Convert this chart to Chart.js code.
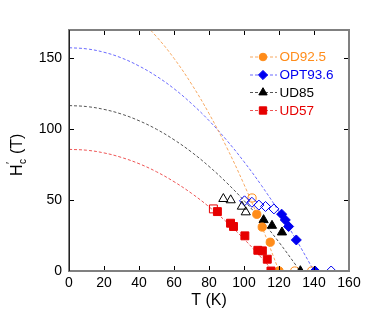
<!DOCTYPE html>
<html><head><meta charset="utf-8">
<script src="https://cdn.jsdelivr.net/npm/chart.js@4/dist/chart.umd.min.js"></script>
<style>html,body{margin:0;padding:0;background:#fff}#wrap{width:368px;height:318px}</style>
</head><body><div id="wrap"><canvas id="c" width="368" height="318"></canvas></div>
<script>
// ---- data ----
const xTicks = [0, 20, 40, 60, 80, 100, 120, 140, 160];
const yTicks = [0, 50, 100, 150];
const seriesNames = ['OD92.5', 'OPT93.6', 'UD85', 'UD57'];

// filled symbols [T, H]
const od925 = [[107.3,40],[110.4,31],[115,20.3],[120,0]];
const opt936 = [[121.5,40.1],[123.6,36],[125.5,31.4],[129.9,21.9],[140.6,0]];
const ud85 = [[111.2,36],[116,32],[121.7,27.3],[132.2,0]];
const ud57 = [[84.8,41.9],[92.3,33.7],[94,31.4],[100.5,24.8],[107.9,14.6],[110.5,14.2],[113.3,8.3],[115.4,0]];
// open symbols
const od925Open = [[104.6,51.5],[129,0],[138.7,0]];
const opt936Open = [[100.3,49.5],[104.5,48.5],[108.5,46.5],[112.3,45.5],[117.1,43.8],[149.8,0]];
const ud85Open = [[88.2,50.9],[92.4,50],[98.8,45.5],[101,41.5]];
const ud57Open = [[82.5,43.8]];
// dashed fit curves
const fitT_od = [0,10,20,30,40,50,60,70,80,90,100,110,120];
const fitH_od = [200,198.6,194.4,187.5,177.8,165.3,150,131.9,111.1,87.5,61.1,31.9,0];
const fitT_opt = [0,10,20,30,40,50,60,70,80,90,100,110,120,130,140];
const fitH_opt = [157.5,156.7,154.3,150.3,144.6,137.4,128.6,118.1,106.1,92.4,77.1,60.3,41.8,21.7,0];
const fitT_ud85 = [0,10,20,30,40,50,60,70,80,90,100,110,120,130,132];
const fitH_ud85 = [116.7,116.0,114.0,110.7,106.0,100.0,92.6,83.9,73.8,62.4,49.7,35.7,20.3,3.5,0];
const fitT_ud57 = [0,10,20,30,40,50,60,70,80,90,100,110,116.5];
const fitH_ud57 = [85.8,85.2,83.3,80.1,75.7,70.0,63.0,54.8,45.3,34.6,22.6,9.3,0];

const C_OD = '#ff8c1a', C_OPT = '#0000f0', C_UD85 = '#000000', C_UD57 = '#e60000';
const L_OD = '#f7a860', L_OPT = '#6a6aff', L_UD85 = '#555555', L_UD57 = '#ee5555';

const pts = a => a.map(p => ({x: p[0], y: p[1]}));
const zip = (t, h) => t.map((v, i) => ({x: v, y: h[i]}));

function curve(data, color) {
  return {type: 'line', data, borderColor: color, borderWidth: 1, borderDash: [3, 2],
    pointRadius: 0, tension: 0.4, fill: false, order: 10};
}
function marks(data, color, style, r, open) {
  return {type: 'scatter', data, pointStyle: style, pointRadius: r, pointHoverRadius: r,
    pointBackgroundColor: open ? 'rgba(255,255,255,0)' : color, pointBorderColor: color,
    pointBorderWidth: 1, showLine: false, order: open ? 2 : 1};
}
const R_SQ = 5.6, R_CI = 4.1, R_TR = 5.3, R_DI = 5.0;

const frameTicks = {
  id: 'frameTicks',
  afterDraw(chart) {
    const {ctx, chartArea: a, scales: {x, y}} = chart;
    ctx.save();
    ctx.strokeStyle = '#000'; ctx.lineWidth = 1;
    ctx.beginPath();
    xTicks.forEach(v => { const px = Math.round(x.getPixelForValue(v)) + 0.5;
      ctx.moveTo(px, a.bottom); ctx.lineTo(px, a.bottom - 5);
      ctx.moveTo(px, a.top); ctx.lineTo(px, a.top + 5); });
    yTicks.forEach(v => { const py = Math.round(y.getPixelForValue(v)) + 0.5;
      ctx.moveTo(a.left, py); ctx.lineTo(a.left + 5, py);
      ctx.moveTo(a.right, py); ctx.lineTo(a.right - 5, py); });
    ctx.stroke();
    ctx.strokeStyle = '#808080'; ctx.lineWidth = 2;
    ctx.strokeRect(a.left, a.top, a.right - a.left, a.bottom - a.top);
    ctx.strokeStyle = '#222'; ctx.lineWidth = 1;
    ctx.beginPath(); ctx.moveTo(a.left + 0.5, a.top); ctx.lineTo(a.left + 0.5, a.bottom); ctx.stroke();

    // legend
    const items = [
      {name: seriesNames[0], c: C_OD, l: L_OD, s: 'circle', r: 3.8, y: 57},
      {name: seriesNames[1], c: C_OPT, l: L_OPT, s: 'rectRot', r: 4.6, y: 75},
      {name: seriesNames[2], c: C_UD85, l: L_UD85, s: 'triangle', r: 4.8, y: 92.5},
      {name: seriesNames[3], c: C_UD57, l: L_UD57, s: 'rect', r: 5.2, y: 110.5}
    ];
    ctx.font = '13.5px "Liberation Sans", Arial, sans-serif';
    ctx.textBaseline = 'middle'; ctx.textAlign = 'left';
    items.forEach(it => {
      ctx.save();
      ctx.strokeStyle = it.l; ctx.lineWidth = 1; ctx.setLineDash([3, 2]);
      ctx.beginPath(); ctx.moveTo(250, it.y); ctx.lineTo(277, it.y); ctx.stroke();
      ctx.restore();
      ctx.fillStyle = it.c; ctx.strokeStyle = it.c; ctx.lineWidth = 1;
      Chart.helpers.drawPoint(ctx, {pointStyle: it.s, radius: it.r, rotation: 0, borderWidth: 1}, 263, it.y);
      ctx.fillStyle = it.c;
      ctx.fillText(it.name, 279.5, it.y + 0.5);
    });

    // y axis title H'c (T)
    ctx.save();
    ctx.translate(22, 176); ctx.rotate(-Math.PI / 2);
    ctx.fillStyle = '#000'; ctx.textBaseline = 'alphabetic'; ctx.textAlign = 'left';
    ctx.font = '16px "Liberation Sans", Arial, sans-serif';
    ctx.fillText('H', 0, 0);
    let w = ctx.measureText('H').width;
    ctx.font = '10px "Liberation Sans", Arial, sans-serif';
    ctx.fillText('\u2032', w + 0.5, -8);
    ctx.fillText('c', w + 0.5, 4);
    w += ctx.measureText('c').width + 1;
    ctx.font = '16px "Liberation Sans", Arial, sans-serif';
    ctx.fillText(' (T)', w, 0);
    ctx.restore();
    ctx.restore();
  }
};

new Chart(document.getElementById('c'), {
  data: {
    datasets: [
      curve(zip(fitT_od, fitH_od), L_OD),
      curve(zip(fitT_opt, fitH_opt), L_OPT),
      curve(zip(fitT_ud85, fitH_ud85), L_UD85),
      curve(zip(fitT_ud57, fitH_ud57), L_UD57),
      marks(pts(ud57Open), C_UD57, 'rect', R_SQ, true),
      marks(pts(ud85Open), C_UD85, 'triangle', R_TR, true),
      marks(pts(opt936Open), C_OPT, 'rectRot', R_DI, true),
      marks(pts(od925Open), C_OD, 'circle', R_CI, true),
      marks(pts(ud57), C_UD57, 'rect', R_SQ, false),
      marks(pts(od925), C_OD, 'circle', R_CI, false),
      marks(pts(ud85), C_UD85, 'triangle', R_TR, false),
      marks(pts(opt936), C_OPT, 'rectRot', R_DI, false)
    ]
  },
  options: {
    responsive: false, animation: false, devicePixelRatio: 1,
    layout: {padding: {left: 0, top: 30, right: 19, bottom: 0}},
    plugins: {legend: {display: false}, tooltip: {enabled: false}},
    scales: {
      x: {type: 'linear', min: 0, max: 160,
        grid: {display: false, drawTicks: false}, border: {display: false},
        afterBuildTicks: s => { s.ticks = xTicks.map(v => ({value: v})); },
        afterFit: s => { s.height = 47; },
        ticks: {padding: 4, color: '#000', maxRotation: 0,
          font: {family: '"Liberation Sans", Arial, sans-serif', size: 14}},
        title: {display: true, text: 'T (K)', color: '#000', padding: {top: 0, bottom: 8},
          font: {family: '"Liberation Sans", Arial, sans-serif', size: 16}}
      },
      y: {type: 'linear', min: 0, max: 170,
        grid: {display: false, drawTicks: false}, border: {display: false},
        afterBuildTicks: s => { s.ticks = yTicks.map(v => ({value: v})); },
        afterFit: s => { s.width = 69; },
        ticks: {padding: 7, color: '#000',
          font: {family: '"Liberation Sans", Arial, sans-serif', size: 14}}
      }
    }
  },
  plugins: [frameTicks]
});
</script></body></html>
